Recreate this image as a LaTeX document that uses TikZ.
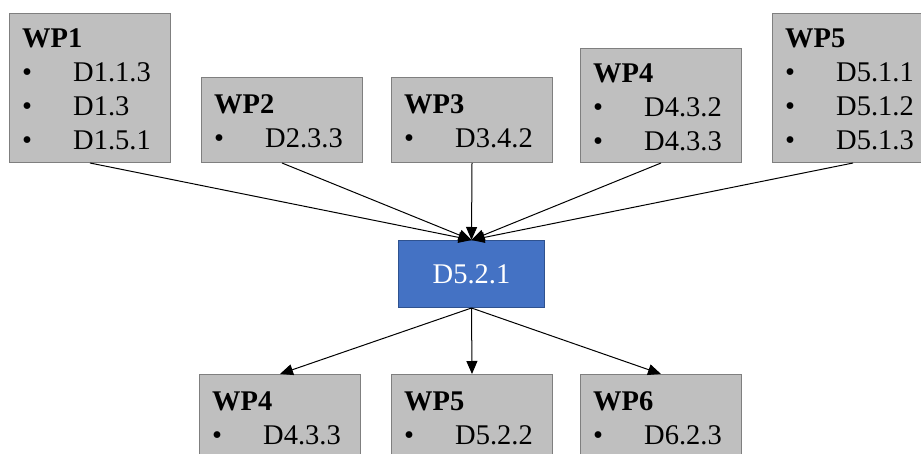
\documentclass[tikz,border=0pt]{standalone}
\usepackage{fontspec}
\setmainfont{Liberation Serif}
\usetikzlibrary{arrows.meta}
\definecolor{boxfill}{HTML}{BFBFBF}
\definecolor{boxline}{HTML}{7F7F7F}
\definecolor{bluefill}{HTML}{4472C4}
\definecolor{blueline}{HTML}{2F528F}
\newcommand{\bul}{\makebox[51pt][l]{\textbullet}}
\tikzset{
  wpbox/.style={draw=boxline, fill=boxfill, line width=1pt, rectangle, inner sep=0pt, anchor=north west, minimum width=161pt},
  txt/.style={inner sep=0pt, anchor=base west, font=\fontsize{28.5}{34}\selectfont, text=black},
  dbox/.style={draw=blueline, fill=bluefill, line width=1pt, rectangle, inner sep=0pt, anchor=north west, minimum width=146pt, minimum height=67pt, text=white, font=\fontsize{28.5}{34}\selectfont},
  link/.style={draw=black, line width=1pt, -{Triangle[length=13pt,width=11pt]}}
}
\begin{document}
\begin{tikzpicture}[x=1pt,y=-1pt]
\clip (0,0) rectangle (921,454);
\fill[white] (0,0) rectangle (921,454);
% top boxes
\node[wpbox, minimum height=149pt] (wp1) at (9,13) {};
\node[wpbox, minimum height=85pt] (wp2) at (201,77) {};
\node[wpbox, minimum height=85pt] (wp3) at (391,77) {};
\node[wpbox, minimum height=114pt] (wp4) at (580,48) {};
\node[wpbox, minimum height=149pt] (wp5) at (772,13) {};
% center
\node[dbox] (d) at (398,240) {D5.2.1};
% bottom boxes
\node[wpbox, minimum height=95pt] (b4) at (199,374) {};
\node[wpbox, minimum height=95pt] (b5) at (391,374) {};
\node[wpbox, minimum height=95pt] (b6) at (580,374) {};
% texts
\node[txt] (wp1t) at ([shift={(13,35)}]wp1.north west) {\begin{tabular}[t]{@{}l@{}}\textbf{WP1}\\ \bul D1.1.3\\ \bul D1.3\\ \bul D1.5.1\end{tabular}};
\node[txt] (wp2t) at ([shift={(13,37)}]wp2.north west) {\begin{tabular}[t]{@{}l@{}}\textbf{WP2}\\ \bul D2.3.3\end{tabular}};
\node[txt] (wp3t) at ([shift={(13,37)}]wp3.north west) {\begin{tabular}[t]{@{}l@{}}\textbf{WP3}\\ \bul D3.4.2\end{tabular}};
\node[txt] (wp4t) at ([shift={(13,35)}]wp4.north west) {\begin{tabular}[t]{@{}l@{}}\textbf{WP4}\\ \bul D4.3.2\\ \bul D4.3.3\end{tabular}};
\node[txt] (wp5t) at ([shift={(13,35)}]wp5.north west) {\begin{tabular}[t]{@{}l@{}}\textbf{WP5}\\ \bul D5.1.1\\ \bul D5.1.2\\ \bul D5.1.3\end{tabular}};
\node[txt] (b4t) at ([shift={(13,36)}]b4.north west) {\begin{tabular}[t]{@{}l@{}}\textbf{WP4}\\ \bul D4.3.3\end{tabular}};
\node[txt] (b5t) at ([shift={(13,36)}]b5.north west) {\begin{tabular}[t]{@{}l@{}}\textbf{WP5}\\ \bul D5.2.2\end{tabular}};
\node[txt] (b6t) at ([shift={(13,36)}]b6.north west) {\begin{tabular}[t]{@{}l@{}}\textbf{WP6}\\ \bul D6.2.3\end{tabular}};
% connectors
\foreach \s in {wp1,wp2,wp3,wp4,wp5}{
  \draw[link] (\s.south) -- (d.north);
}
\foreach \t in {b4,b5,b6}{
  \draw[link] (d.south) -- (\t.north);
}
\end{tikzpicture}
\end{document}
